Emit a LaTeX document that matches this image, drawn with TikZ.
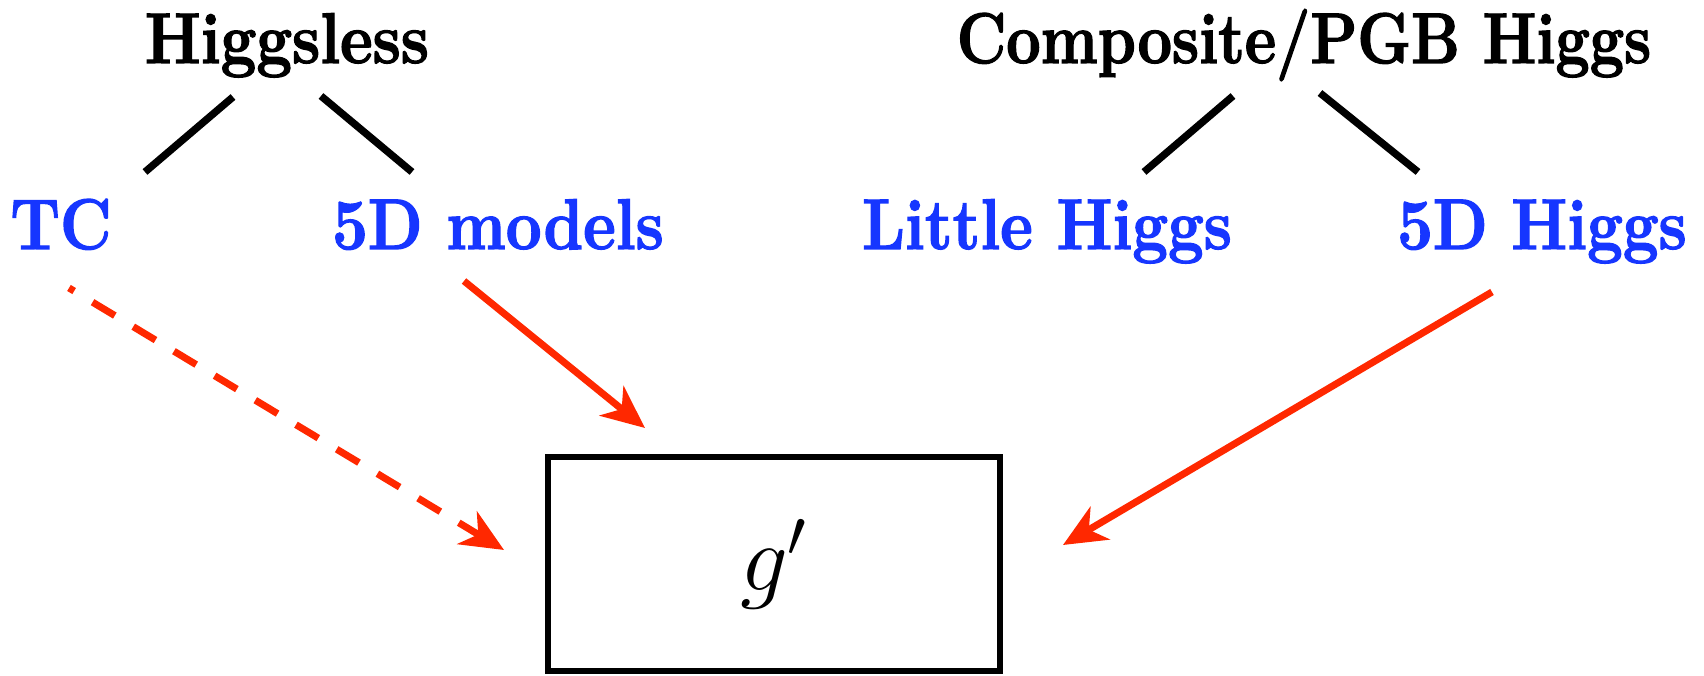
\RequirePackage{fix-cm}
\documentclass[tikz,border=0pt]{standalone}
\usepackage{fontspec}
\usetikzlibrary{arrows.meta}
\newfontfamily\headfont{Latin Modern Roman}[FakeStretch=0.885, FakeBold=1.8]
\newfontfamily\compfont{Latin Modern Roman}[FakeStretch=0.85, FakeBold=1.8]
\definecolor{modelblue}{RGB}{22,54,255}
\definecolor{arrowred}{RGB}{255,40,0}
\tikzset{
  head/.style={font=\fontsize{20.4}{24}\headfont\bfseries, inner sep=0pt, anchor=base},
  model/.style={head, text=modelblue},
  branch/.style={line width=2.1pt},
  feed/.style={arrowred, line width=2pt, -{Stealth[length=4.3mm,width=3.8mm,inset=1.3mm]}},
}
\begin{document}
\begin{tikzpicture}[x=0.1mm,y=-0.1mm]
  \useasboundingbox (0,0) rectangle (1704,676);
  % classes
  \node[head] (higgsless) at (287,63) {Higgsless};
  \node[head, font=\fontsize{20.4}{24}\compfont\bfseries] (composite) at (1304,63) {Composite/PGB Higgs};
  % models
  \node[model] (tc) at (61,249) {TC};
  \node[model] (models) at (498,249) {5D models};
  \node[model] (little) at (1047,249) {Little Higgs};
  \node[model] (fivedh) at (1542,249) {5D Higgs};
  \node[draw, line width=1.7pt, minimum width=45.2mm, minimum height=21.4mm,
        font=\fontsize{27}{32}\selectfont] (gprime) at (774,564) {$g'$};
  % branches
  \draw[branch] ([shift={(-54,34)}]higgsless.base) -- ([shift={(84,-77)}]tc.base);
  \draw[branch] ([shift={(34,33)}]higgsless.base) -- ([shift={(-86,-77)}]models.base);
  \draw[branch] ([shift={(-71,33)}]composite.base) -- ([shift={(97,-77)}]little.base);
  \draw[branch] ([shift={(16,30)}]composite.base) -- ([shift={(-124,-77)}]fivedh.base);
  % arrows to g'
  \draw[feed, dash pattern=on 2.6mm off 2.15mm, dash phase=2mm] ([shift={(8,39)}]tc.base) -- ([shift={(-41,-14)}]gprime.west);
  \draw[feed] ([shift={(-34,32)}]models.base) -- ([shift={(-129,-26)}]gprime.north);
  \draw[feed] ([shift={(-50,43)}]fivedh.base) -- ([shift={(60,-19)}]gprime.east);
\end{tikzpicture}
\end{document}
